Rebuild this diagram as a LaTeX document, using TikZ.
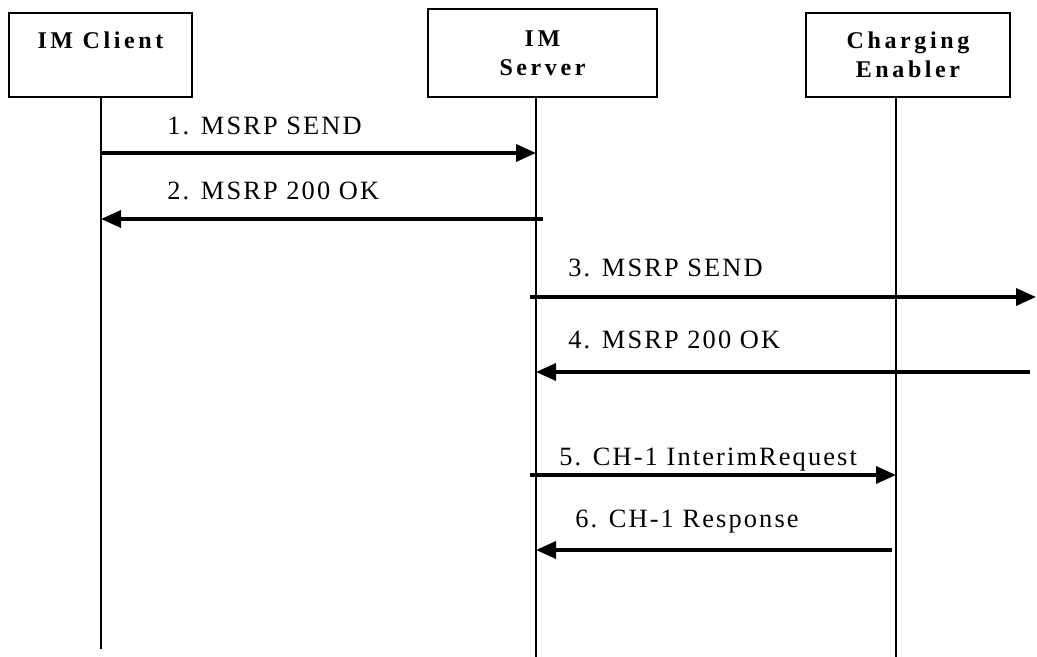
\documentclass[tikz,border=0pt]{standalone}
\usepackage{fontspec}
\setmainfont{Liberation Serif}
\newfontfamily\msgfont[LetterSpace=8]{Liberation Serif}
\newfontfamily\entfont[LetterSpace=15]{Liberation Serif}
\usetikzlibrary{arrows.meta}
\usetikzlibrary{calc}
\tikzset{
	mysequence/.style = {
		x=0.5pt, y=-0.5pt, >={Triangle[length=10pt,width=8.5pt]},
	},
	entity/.style = {draw, line width=1pt, align=center, inner sep=0pt,
		font=\entfont\fontsize{12}{14.5}\selectfont\bfseries},
	lifeline/.style = {line width=1pt},
	msg/.style = {->, line width=1.7pt},
	msglabel/.style = {anchor=base west, inner sep=0pt,
		font=\msgfont\fontsize{13.2}{15}\selectfont},
}

\begin{document}
\begin{tikzpicture}[mysequence]
	\useasboundingbox (0,0) rectangle (1037,657);
	% entities
	\node[entity, minimum width=91.5pt, minimum height=42pt] (client) at (100.5,55) {IM Client\\\mbox{}};
	\node[entity, minimum width=114.5pt, minimum height=44pt] (server) at (542.5,53) {IM\\Server};
	\node[entity, minimum width=102pt, minimum height=42pt] (charging) at (908,55) {Charging\\Enabler};
	
	% lifelines
	\coordinate (client top) at (101,97);
	\coordinate (client bottom) at (101,649);
	\coordinate (server top) at (536,97);
	\coordinate (server bottom) at (536,657);
	\coordinate (charging top) at (896,97);
	\coordinate (charging bottom) at (896,657);
	\coordinate (outside) at (1036,97);
	\draw[lifeline] (client top) -- (client bottom);
	\draw[lifeline] (server top) -- (server bottom);
	\draw[lifeline] (charging top) -- (charging bottom);
	
	% messages
	\coordinate (m1) at (0,153);
	\coordinate (m2) at (0,219);
	\coordinate (m3) at (0,297);
	\coordinate (m4) at (0,372);
	\coordinate (m5) at (0,475);
	\coordinate (m6) at (0,550);
	\draw[msg] (client top |- m1) -- (server top |- m1);
	\draw[msg] ([xshift=3.5pt]server top |- m2) -- (client top |- m2);
	\draw[msg] ([xshift=-3pt]server top |- m3) -- (outside |- m3);
	\draw[msg] ([xshift=-3pt]outside |- m4) -- (server top |- m4);
	\draw[msg] ([xshift=-3pt]server top |- m5) -- (charging top |- m5);
	\draw[msg] ([xshift=-2pt]charging top |- m6) -- (server top |- m6);
	
	\node[msglabel] (l1) at (167,135) {1. MSRP SEND};
	\node[msglabel] (l2) at (167,200) {2. MSRP 200 OK};
	\node[msglabel] (l3) at (568,277) {3. MSRP SEND};
	\node[msglabel] (l4) at (568,348) {4. MSRP 200 OK};
	\node[msglabel] (l5) at (559,465) {5. CH-1 InterimRequest};
	\node[msglabel] (l6) at (575,527) {6. CH-1 Response};
\end{tikzpicture}
\end{document}
